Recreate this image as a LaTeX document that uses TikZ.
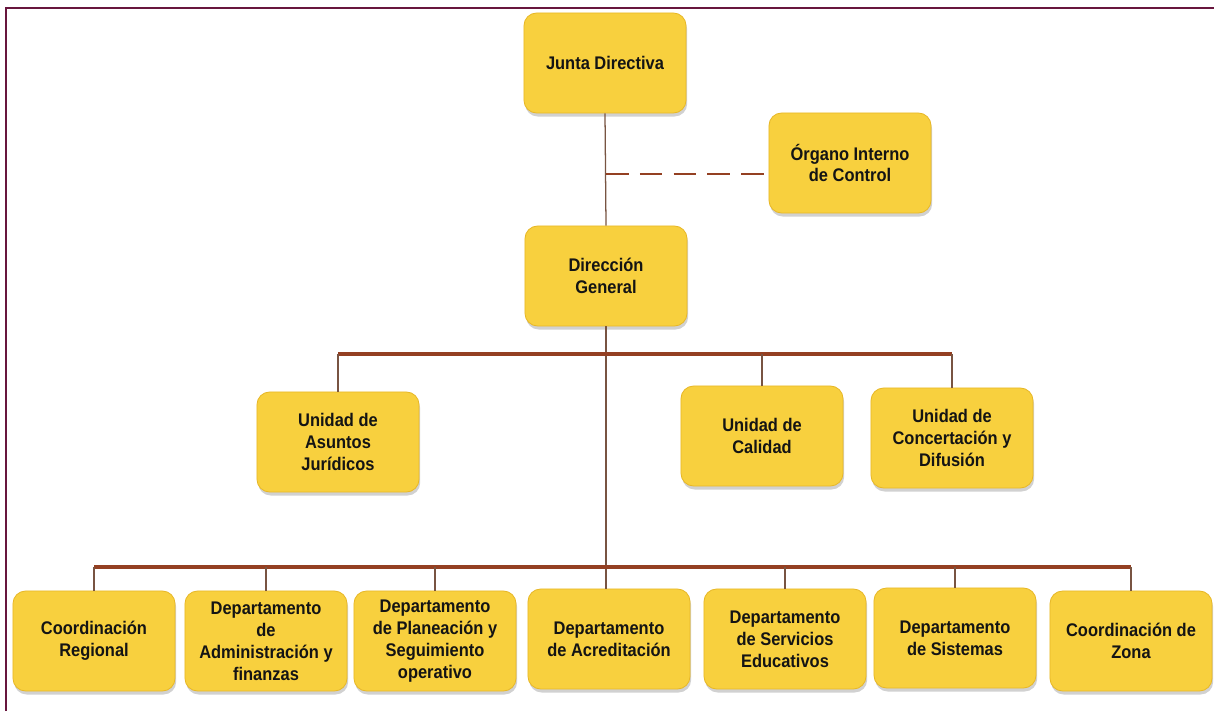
\documentclass[tikz,border=0pt]{standalone}
\usepackage{fontspec}
\setmainfont{Liberation Sans}[FakeStretch=0.9]
\usepackage{tikz}
\usetikzlibrary{shadows}
\definecolor{boxfill}{RGB}{248,208,62}
\definecolor{boxedge}{RGB}{232,184,40}
\definecolor{barcol}{RGB}{148,64,34}
\definecolor{dropcol}{RGB}{120,84,66}
\definecolor{framecol}{RGB}{104,22,62}
\newcommand\busy{354}

\begin{document}
\begin{tikzpicture}[x=0.025cm, y=-0.025cm,
        unit/.style={rounded corners=9pt, fill=boxfill, draw=boxedge, line width=0.6pt,
            minimum width=4.05cm, minimum height=2.5cm, align=center, text=black!92,
            font=\fontsize{13}{15.6}\selectfont\bfseries,
            drop shadow={shadow xshift=0.8pt, shadow yshift=-2.5pt, opacity=0.3, fill=black!60}},
        bar/.style={barcol, line width=2.4pt},
        drop/.style={dropcol, line width=0.9pt}]
        \useasboundingbox (0,0) rectangle (1214,711);
        \draw[framecol, line width=1.9pt] (6,711) -- (6,8) -- (1214,8);
        \node[unit] (junta)      at (605, 63)  {Junta Directiva};
        \node[unit] (organo)     at (850, 163) {Órgano Interno\\de Control};
        \node[unit] (direccion)  at (606, 276) {Dirección\\General};
        \node[unit] (juridicos)  at (338, 442) {Unidad de\\Asuntos\\Jurídicos};
        \node[unit] (calidad)    at (762, 436) {Unidad de\\Calidad};
        \node[unit] (concert)    at (952, 438) {Unidad de\\Concertación y\\Difusión};
        \node[unit] (regional)   at (94, 641)  {Coordinación\\Regional};
        \node[unit] (admin)      at (266, 641) {Departamento\\de\\Administración y\\finanzas};
        \node[unit] (planeacion) at (435, 641) {Departamento\\de Planeación y\\Seguimiento\\operativo};
        \node[unit] (acred)      at (609, 639) {Departamento\\de Acreditación};
        \node[unit] (servicios)  at (785, 639) {Departamento\\de Servicios\\Educativos};
        \node[unit] (sistemas)   at (955, 638) {Departamento\\de Sistemas};
        \node[unit] (zona)       at (1131, 641) {Coordinación de\\Zona};
        \coordinate (bus1) at (606, \busy);
        \coordinate (bus2) at (606, 567);
        \coordinate (dash) at (606, 174);
        \draw[drop] (junta.south) -- (direccion.north);
        \draw[drop] (direccion.south) -- (bus2) -- (bus2 |- acred.north);
        \draw[barcol, line width=1.2pt, dash pattern=on 16pt off 8pt] (dash) -- (dash -| organo.west);
        \draw[bar] (juridicos.north |- bus1) -- (concert.north |- bus1);
        \draw[bar] (regional.north |- bus2) -- (zona.north |- bus2);
        \foreach \n in {juridicos, calidad, concert}
            \draw[drop] (\n.north |- bus1) -- (\n.north);
        \foreach \n in {regional, admin, planeacion, servicios, sistemas, zona}
            \draw[drop] (\n.north |- bus2) -- (\n.north);
    \end{tikzpicture}
\end{document}
